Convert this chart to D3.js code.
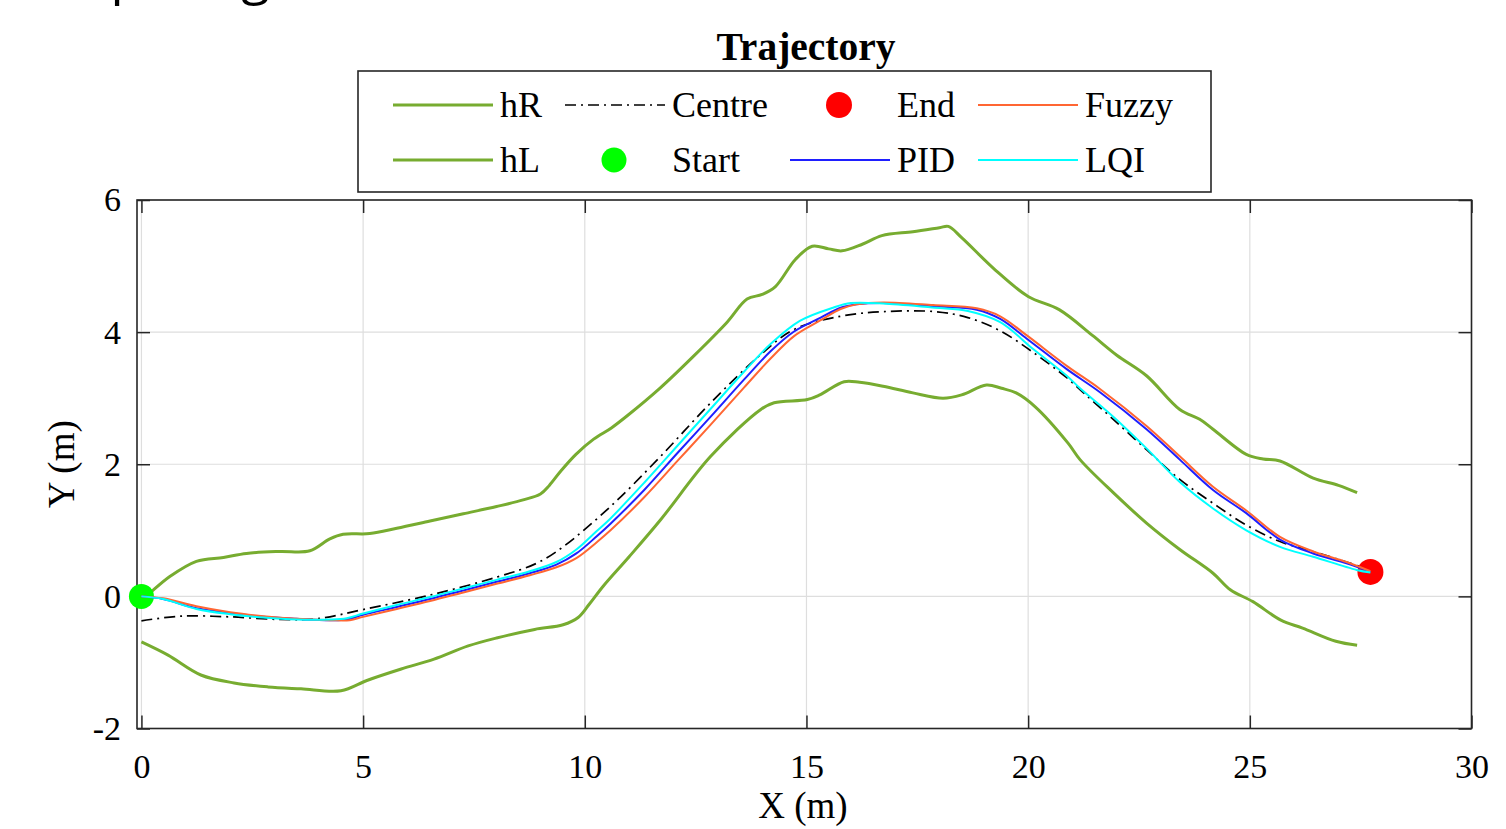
<!DOCTYPE html>
<html>
<head>
<meta charset="utf-8">
<script src="https://cdn.jsdelivr.net/npm/d3@7"></script>
<style>
  body { margin: 0; background: #fff; }
  svg text { font-family: "Liberation Serif", "Times New Roman", serif; fill: #000; }
</style>
</head>
<body>
<div id="trajectory"></div>
<script>
// road borders (right / left), [x, y] in metres
const hR = [[0.1,0.0],[0.19,0.05],[0.64,0.30],[1.24,0.53],[1.85,0.59],[2.37,0.65],[3.12,0.68],[3.8,0.69],
  [4.25,0.87],[4.55,0.94],[5.15,0.95],[5.76,1.03],[6.51,1.14],[7.26,1.25],[8.01,1.36],[8.61,1.46],[9.0,1.55],
  [9.2,1.68],[9.45,1.89],[9.8,2.15],[10.2,2.38],[10.6,2.55],[10.95,2.73],[11.71,3.16],[12.46,3.64],[13.21,4.15],
  [13.66,4.5],[14.0,4.57],[14.3,4.69],[14.75,5.10],[15.13,5.30],[15.5,5.26],[15.8,5.23],[16.26,5.33],[16.7,5.46],
  [17.4,5.52],[18.0,5.58],[18.2,5.60],[18.5,5.43],[19.26,4.94],[20.0,4.54],[20.7,4.34],[21.45,3.95],[22.0,3.65],
  [22.67,3.34],[23.42,2.83],[23.87,2.68],[24.17,2.53],[24.92,2.15],[25.3,2.08],[25.68,2.05],[26.43,1.79],
  [27.0,1.68],[27.42,1.57]];
const hL = [[0.0,-0.69],[0.6,-0.89],[1.34,-1.19],[2.09,-1.31],[2.85,-1.37],[3.6,-1.40],[4.5,-1.43],[5.1,-1.27],
  [5.86,-1.10],[6.6,-0.95],[7.37,-0.75],[8.01,-0.63],[8.87,-0.50],[9.51,-0.43],[9.85,-0.32],[10.1,-0.12],
  [10.41,0.15],[11.0,0.6],[11.71,1.16],[12.84,2.12],[13.97,2.83],[14.27,2.93],[15.02,2.98],[15.3,3.05],
  [15.85,3.25],[16.2,3.24],[16.73,3.18],[17.4,3.08],[18.08,3.0],[18.5,3.05],[19.06,3.2],[19.4,3.15],
  [19.73,3.08],[20.16,2.87],[20.9,2.32],[21.17,2.07],[21.92,1.57],[22.67,1.11],[23.42,0.71],[24.17,0.35],
  [24.56,0.1],[25.07,-0.08],[25.7,-0.36],[26.19,-0.48],[26.94,-0.68],[27.42,-0.74]];
const centre = [[0,-0.37],[0.87,-0.30],[2.0,-0.31],[3.12,-0.35],[3.95,-0.34],[5.0,-0.20],[6.51,0.02],[8.01,0.29],
  [8.91,0.50],[9.51,0.75],[10.58,1.36],[11.71,2.12],[12.84,2.93],[13.97,3.66],[14.72,4.04],[15.77,4.24],
  [16.73,4.31],[17.9,4.31],[18.64,4.22],[19.37,4.02],[20.12,3.69],[20.87,3.31],[21.25,3.08],[21.92,2.68],
  [22.67,2.22],[23.42,1.77],[24.17,1.41],[24.92,1.08],[25.68,0.83],[26.43,0.68],[27.18,0.52],[27.72,0.40]];

// controller trajectories
const pid = [[0,0],[0.49,-0.04],[1.24,-0.18],[2.0,-0.25],[2.75,-0.31],[3.5,-0.34],[4.25,-0.36],[4.63,-0.35],
  [5.0,-0.28],[5.76,-0.16],[6.51,-0.04],[7.26,0.09],[8.01,0.22],[8.76,0.35],[9.36,0.48],[9.81,0.65],[10.27,0.91],
  [10.58,1.1],[11.34,1.61],[12.09,2.17],[12.84,2.72],[13.59,3.28],[14.19,3.71],[14.72,4.01],[15.32,4.22],
  [15.77,4.37],[16.13,4.42],[16.73,4.44],[17.86,4.39],[18.84,4.34],[19.37,4.2],[19.97,3.9],[20.87,3.44],
  [21.62,3.09],[22.67,2.53],[23.42,2.07],[24.17,1.61],[24.92,1.26],[25.68,0.86],[26.43,0.65],[27.18,0.50],[27.72,0.37]];
const fuzzy = [[0,0],[0.49,-0.03],[1.24,-0.15],[2.0,-0.24],[2.75,-0.30],[3.5,-0.34],[4.25,-0.36],[4.7,-0.36],
  [5.0,-0.31],[5.76,-0.19],[6.51,-0.07],[7.26,0.06],[8.01,0.19],[8.76,0.32],[9.36,0.44],[9.81,0.58],[10.27,0.82],
  [10.58,1.0],[11.34,1.5],[12.09,2.05],[12.84,2.6],[13.59,3.16],[14.19,3.6],[14.72,3.94],[15.32,4.18],[15.77,4.35],
  [16.13,4.42],[16.73,4.45],[17.86,4.41],[18.84,4.36],[19.37,4.24],[19.97,3.95],[20.87,3.49],[21.62,3.14],
  [22.67,2.58],[23.42,2.12],[24.17,1.66],[24.92,1.30],[25.68,0.90],[26.43,0.68],[27.18,0.52],[27.72,0.38]];
const lqi = [[0,0],[0.49,-0.04],[1.24,-0.19],[2.0,-0.27],[2.75,-0.32],[3.5,-0.35],[4.25,-0.35],[4.63,-0.33],
  [5.0,-0.26],[5.76,-0.13],[6.51,-0.01],[7.26,0.12],[8.01,0.25],[8.76,0.38],[9.36,0.52],[9.81,0.71],[10.27,0.99],
  [10.58,1.18],[11.34,1.72],[12.09,2.28],[12.84,2.84],[13.59,3.4],[14.19,3.82],[14.85,4.17],[15.6,4.37],
  [16.0,4.44],[16.8,4.43],[17.9,4.37],[18.64,4.32],[19.37,4.15],[20.12,3.74],[20.87,3.34],[21.17,3.15],
  [21.92,2.72],[22.67,2.24],[23.42,1.73],[24.17,1.33],[24.92,1.0],[25.68,0.75],[26.43,0.6],[27.41,0.40],[27.72,0.36]];

const startPt = [0, 0];
const endPt = [27.72, 0.37];

const xTicks = [0, 5, 10, 15, 20, 25, 30];
const yTicks = [-2, 0, 2, 4, 6];

// legend order as in the figure (filled column by column)
const legendNames = ["hR", "hL", "Centre", "Start", "End", "PID", "Fuzzy", "LQI"];

function TrajectoryChart({
    target,
    width = 1506,
    height = 829,
    left = 137, // axes box, in pixels
    right = 1471.5,
    top = 200,
    bottom = 728.5,
} = {}) {
    const svg = d3.select(target)
        .append("svg")
        .attr("width", width)
        .attr("height", height);

    svg.append("rect").attr("width", width).attr("height", height).attr("fill", "#fff");

    const x = d3.scaleLinear().domain([-0.1, 30]).range([left, right]);
    const y = d3.scaleLinear().domain([-2, 6]).range([bottom, top]);

    const styles = {
        hR: {stroke: "#77ac30", width: 3},
        hL: {stroke: "#77ac30", width: 3},
        Centre: {stroke: "#000", width: 1.7, dash: "11,5,2,5"},
        Start: {fill: "#00ff00", r: 12.5},
        End: {fill: "#ff0000", r: 13},
        PID: {stroke: "#1f1fff", width: 2},
        Fuzzy: {stroke: "#ff6633", width: 2},
        LQI: {stroke: "#00ffff", width: 2},
    };
    const series = {hR, hL, Centre: centre, PID: pid, Fuzzy: fuzzy, LQI: lqi};
    const points = {Start: startPt, End: endPt};

    // caption of the page above the figure, mostly cropped in the original too
    svg.append("text")
        .attr("x", 82).attr("y", -6)
        .style("font-family", "'Open Sans', sans-serif")
        .style("font-size", "52px")
        .text("Spacing");

    // grid
    svg.append("g")
        .selectAll("line")
        .data(xTicks).enter().append("line")
        .attr("x1", d => x(d)).attr("x2", d => x(d))
        .attr("y1", top).attr("y2", bottom)
        .attr("stroke", "#dedede").attr("stroke-width", 1.2);
    svg.append("g")
        .selectAll("line")
        .data(yTicks).enter().append("line")
        .attr("x1", left).attr("x2", right)
        .attr("y1", d => y(d)).attr("y2", d => y(d))
        .attr("stroke", "#dedede").attr("stroke-width", 1.2);

    // axes (ticks inside, on all four sides)
    const tick = 13;
    const fmt = d => String(d);
    svg.append("g")
        .attr("transform", `translate(0,${bottom})`)
        .call(d3.axisBottom(x).tickValues(xTicks).tickSize(-tick).tickPadding(25).tickFormat(fmt))
        .call(g => g.select(".domain").remove());
    svg.append("g")
        .attr("transform", `translate(0,${top})`)
        .call(d3.axisTop(x).tickValues(xTicks).tickSize(-tick).tickFormat(""))
        .call(g => g.select(".domain").remove());
    svg.append("g")
        .attr("transform", `translate(${left},0)`)
        .call(d3.axisLeft(y).tickValues(yTicks).tickSize(-tick).tickPadding(16).tickFormat(fmt))
        .call(g => g.select(".domain").remove());
    svg.append("g")
        .attr("transform", `translate(${right},0)`)
        .call(d3.axisRight(y).tickValues(yTicks).tickSize(-tick).tickFormat(""))
        .call(g => g.select(".domain").remove());

    svg.selectAll(".tick line").attr("stroke", "#262626").attr("stroke-width", 1.5);
    svg.selectAll(".tick text")
        .attr("fill", "#262626")
        .style("font-family", "'Liberation Serif', serif")
        .style("font-size", "34px");

    svg.append("rect")
        .attr("x", left).attr("y", top)
        .attr("width", right - left).attr("height", bottom - top)
        .attr("fill", "none").attr("stroke", "#262626").attr("stroke-width", 1.6);

    // data
    const line = d3.line()
        .x(d => x(d[0])).y(d => y(d[1]))
        .curve(d3.curveCatmullRom.alpha(0.5));

    legendNames.forEach(name => {
        const s = styles[name];
        if (series[name]) {
            svg.append("path")
                .datum(series[name])
                .attr("d", line)
                .attr("fill", "none")
                .attr("stroke", s.stroke)
                .attr("stroke-width", s.width)
                .attr("stroke-linejoin", "round")
                .attr("stroke-dasharray", s.dash || null);
        } else {
            svg.append("circle")
                .attr("cx", x(points[name][0])).attr("cy", y(points[name][1]))
                .attr("r", s.r).attr("fill", s.fill);
        }
    });

    // axis labels and title
    svg.append("text")
        .attr("x", 803).attr("y", 818)
        .attr("text-anchor", "middle")
        .style("font-size", "37px")
        .text("X (m)");
    svg.append("text")
        .attr("transform", `translate(74,${(top + bottom) / 2}) rotate(-90)`)
        .attr("text-anchor", "middle")
        .style("font-size", "37px")
        .text("Y (m)");
    svg.append("text")
        .attr("x", 806).attr("y", 60)
        .attr("text-anchor", "middle")
        .style("font-size", "39.5px")
        .style("font-weight", "bold")
        .text("Trajectory");

    // legend box
    const legend = svg.append("g");
    legend.append("rect")
        .attr("x", 358).attr("y", 71)
        .attr("width", 853).attr("height", 121)
        .attr("fill", "#fff").attr("stroke", "#262626").attr("stroke-width", 1.6);

    const colX = [393, 565, 790, 978];
    const rowY = [105, 160];
    const item = legend.selectAll("g")
        .data(legendNames).enter().append("g")
        .attr("transform", (d, i) => `translate(${colX[Math.floor(i / 2)]},${rowY[i % 2]})`);

    item.filter(d => series[d]).append("line")
        .attr("x1", 0).attr("x2", 100)
        .attr("stroke", d => styles[d].stroke)
        .attr("stroke-width", d => styles[d].width)
        .attr("stroke-dasharray", d => styles[d].dash || null);
    item.filter(d => points[d]).append("circle")
        .attr("cx", 49).attr("r", d => styles[d].r)
        .attr("fill", d => styles[d].fill);
    item.append("text")
        .attr("x", 107).attr("y", 12)
        .style("font-size", "36px")
        .text(d => d);
}

TrajectoryChart({
    target: "#trajectory",
})
</script>
</body>
</html>
